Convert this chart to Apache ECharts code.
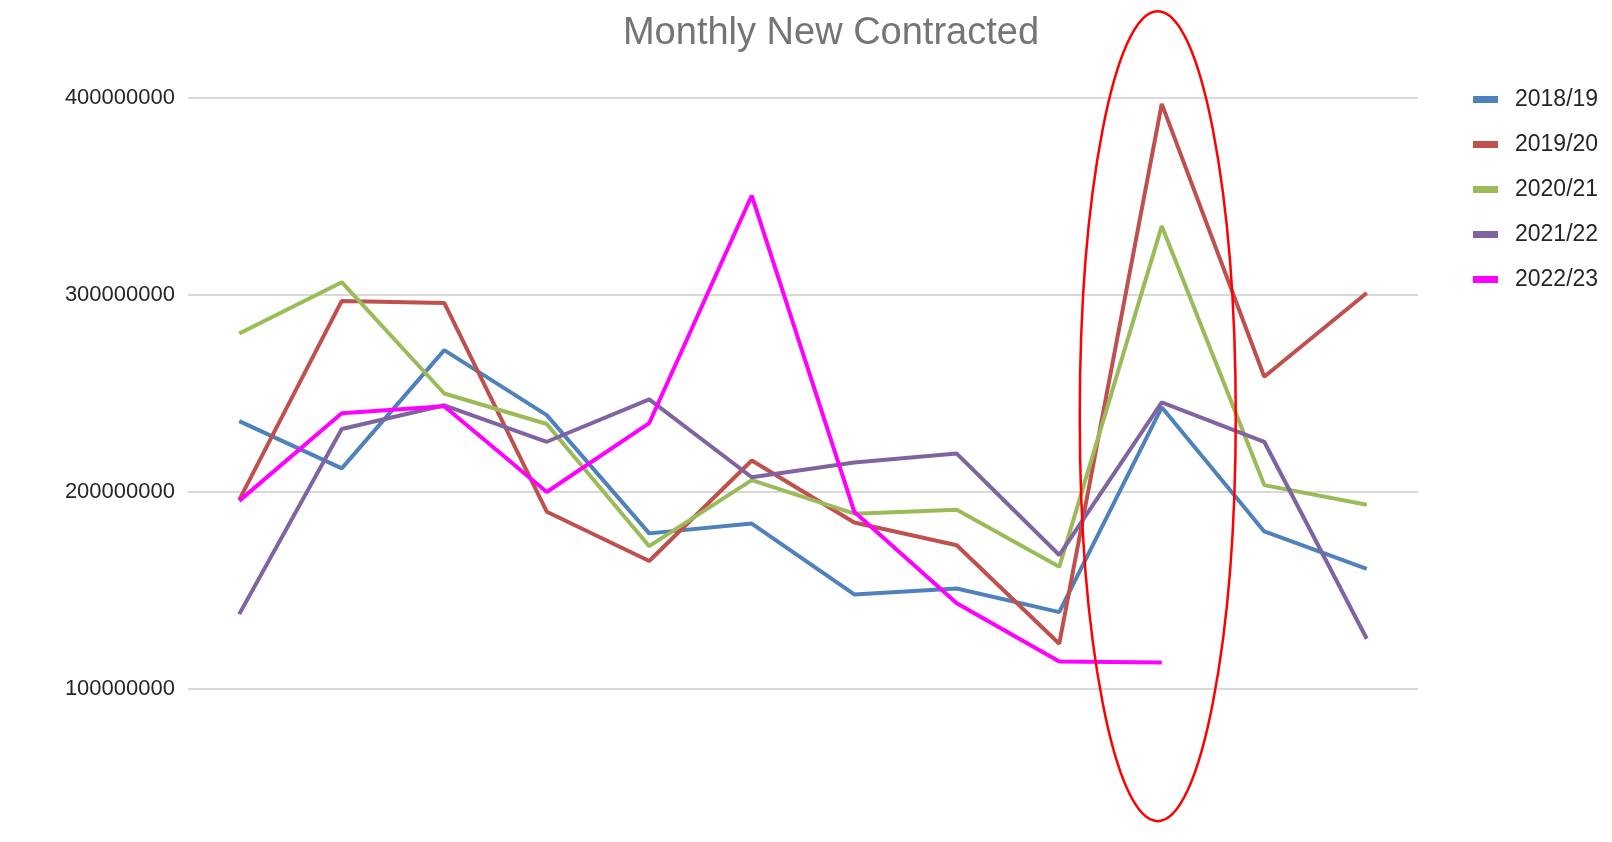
<!DOCTYPE html>
<html>
<head>
<meta charset="utf-8">
<script src="https://cdn.jsdelivr.net/npm/echarts@6/dist/echarts.min.js"></script>
<style>
html,body{margin:0;padding:0;background:#fff;}
#chart{width:1612px;height:842px;}
</style>
</head>
<body>
<div id="chart"></div>
<script>
const months = ['Apr','May','Jun','Jul','Aug','Sep','Oct','Nov','Dec','Jan','Feb','Mar'];
const seriesNames = ['2018/19','2019/20','2020/21','2021/22','2022/23'];
const s2018 = [236000000,212000000,272000000,239000000,179000000,184000000,148000000,151000000,139000000,243000000,180000000,161000000];
const s2019 = [196000000,297000000,296000000,190000000,165000000,216000000,184500000,173000000,123000000,397000000,258500000,301000000];
const s2020 = [280500000,306500000,250000000,234500000,172500000,206000000,189000000,191000000,162000000,335000000,203500000,193500000];
const s2021 = [138000000,232000000,244000000,225500000,247000000,207500000,215000000,219500000,168000000,245500000,225500000,125500000];
const s2022 = [195500000,240000000,243500000,200000000,235000000,350500000,190000000,143500000,114000000,113500000];
const yTicks = [100000000,200000000,300000000,400000000];
const colors = ['#4F81BD','#C0504D','#9BBB59','#8064A2','#FF00FF'];
const allData = [s2018,s2019,s2020,s2021,s2022];

const chart = echarts.init(document.getElementById('chart'));
const fontFam = '"Liberation Sans", Arial, sans-serif';
const option = {
  animation: false,
  backgroundColor: '#ffffff',
  title: {
    text: 'Monthly New Contracted',
    left: 826, textAlign: 'center', top: 10,
    textStyle: {color: '#757575', fontSize: 38, fontWeight: 'normal', fontFamily: fontFam}
  },
  legend: {
    orient: 'vertical',
    left: 1473, top: 88, padding: 0,
    itemWidth: 25, itemHeight: 7, itemGap: 22,
    icon: 'rect',
    textStyle: {color: '#262626', fontSize: 23, fontFamily: fontFam, padding: [0,0,0,12]},
    data: seriesNames
  },
  grid: {left: 188, right: 194, top: 98, height: 788, outerBoundsMode: 'none', containLabel: false},
  xAxis: {
    type: 'category', data: months, boundaryGap: true,
    axisLine: {show: false}, axisTick: {show: false}, axisLabel: {show: false}, splitLine: {show: false}
  },
  yAxis: {
    type: 'value', min: 0, max: 400000000, interval: 100000000,
    axisLine: {show: false}, axisTick: {show: false},
    axisLabel: {
      color: '#262626', fontSize: 22, fontFamily: fontFam, margin: 13,
      formatter: function(v){ return yTicks.indexOf(v) >= 0 ? String(v) : ''; }
    },
    splitLine: {lineStyle: {color: '#D9D9D9', width: 2}}
  },
  series: seriesNames.map((n,i)=>({
    name: n, type: 'line', data: allData[i],
    showSymbol: false, symbol: 'none',
    itemStyle: {color: colors[i]},
    lineStyle: {color: colors[i], width: 4},
    z: 2 + i
  }))
};
chart.setOption(option);
const cx = chart.convertToPixel({xAxisIndex: 0}, months[9]) - 4;
const cy = chart.convertToPixel({yAxisIndex: 0}, 238500000);
chart.setOption({
  graphic: [{
    type: 'ellipse', z: 100,
    shape: {cx: cx, cy: cy, rx: 78, ry: 405},
    style: {fill: 'none', stroke: '#FF0000', lineWidth: 2.5}
  }]
});
</script>
</body>
</html>
